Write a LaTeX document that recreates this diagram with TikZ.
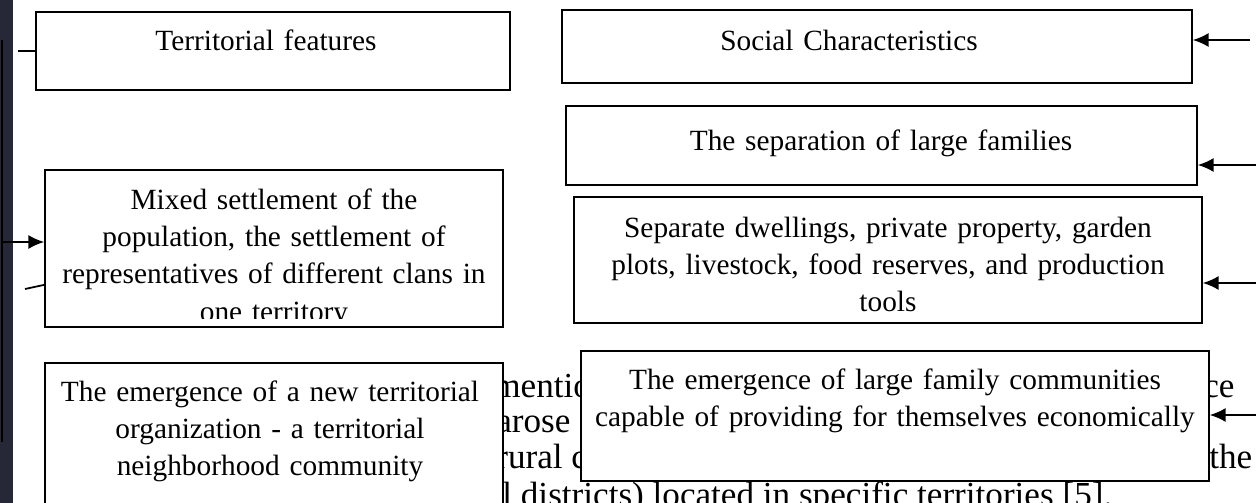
\documentclass[tikz,border=0pt]{standalone}
\usepackage{fontspec}
\setmainfont{Liberation Serif}
\usetikzlibrary{positioning,arrows,arrows.meta}
\tikzset{>={Latex[length=9pt,width=8pt]}}
\definecolor{sidebar}{HTML}{262838}
\tikzset{
  box/.style = {draw, fill=white, line width=1pt, inner sep=0pt},
  boxtext/.style = {align=center, anchor=base, inner sep=0pt,
    font=\fontsize{16.7}{21.3}\selectfont},
  pagetext/.style = {anchor=base west, inner sep=0pt,
    font=\fontsize{20}{24}\selectfont},
  feed/.style = {->, line width=1pt}
}

\begin{document}
\begin{tikzpicture}[x=0.02cm,y=-0.02cm]
  \clip (0,0) rectangle (1256,503);
  \fill[white] (0,0) rectangle (1256,503);
  % page behind the chart
  \fill[sidebar] (0,0) rectangle (13,503);
  \node[pagetext] (p1a) at (493,397) {mention};
  \node[pagetext] (p1b) at (1203,397) {ce};
  \node[pagetext] (p2a) at (496,432) {arose f};
  \node[pagetext] (p3a) at (496,468) {rural co};
  \node[pagetext] (p3b) at (1209,468) {the};
  \node[pagetext] (p4a) at (502,506) {l districts) located in specific territories [5].};

  % left column
  \node[box, minimum width=9.48cm, minimum height=1.56cm] (terr) at (273,51) {};
  \node[boxtext, text width=9cm] (terrtxt) at (266,51) {Territorial features};
  \node[box, minimum width=9.16cm, minimum height=3.14cm] (mixed) at (274,248.5) {};
  \begin{scope}
    \clip (45,170) rectangle (503,318);
    \node[boxtext, text width=9cm] (mixedtxt) at (274,209) {Mixed settlement of the\\
      population, the settlement of\\
      representatives of different clans in\\
      one territory};
  \end{scope}
  \node[box, minimum width=9.16cm, minimum height=3.54cm] (neigh) at (274,451.5) {};
  \node[boxtext, text width=9cm] (neightxt) at (270,401) {The emergence of a new territorial\\
    organization - a territorial\\ neighborhood community};

  % right column
  \node[box, minimum width=12.6cm, minimum height=1.46cm] (social) at (877,46.5) {};
  \node[boxtext, text width=12cm] (socialtxt) at (849,51) {Social Characteristics};
  \node[box, minimum width=12.62cm, minimum height=1.58cm] (split) at (881.5,145.5) {};
  \node[boxtext, text width=12cm] (splittxt) at (881,151) {The separation of large families};
  \node[box, minimum width=12.56cm, minimum height=2.52cm] (dwell) at (888,260) {};
  \node[boxtext, text width=12cm] (dwelltxt) at (888,237) {Separate dwellings, private property, garden\\
    plots, livestock, food reserves, and production\\ tools};
  \node[box, minimum width=12.56cm, minimum height=2.6cm] (family) at (895,416) {};
  \node[boxtext, text width=12cm] (familytxt) at (895,389) {The emergence of large family communities\\
    capable of providing for themselves economically};

  % connectors
  \coordinate (spinetop) at (2,40);
  \coordinate (spinebot) at (2,442);
  \draw[line width=1pt] (spinetop) -- (spinebot);
  \coordinate (tapmixed) at (2,242);
  \draw[feed] (tapmixed) -- (tapmixed -| mixed.west);
  \coordinate (stubterr) at (18,51);
  \draw[line width=1pt] (stubterr) -- (terr.west);
  \coordinate (stubmixed) at (25,289);
  \draw[line width=1pt] (stubmixed) -- ([yshift=-20.7pt]mixed.west);

  \coordinate (insocial) at (1250,40);
  \draw[feed] (insocial) -- (insocial -| social.east);
  \coordinate (insplit) at (1256,165);
  \draw[feed] (insplit) -- (insplit -| split.east);
  \coordinate (indwell) at (1256,283);
  \draw[feed] (indwell) -- (indwell -| dwell.east);
  \coordinate (infamily) at (1256,415);
  \draw[feed] (infamily) -- (infamily -| family.east);
\end{tikzpicture}
\end{document}
